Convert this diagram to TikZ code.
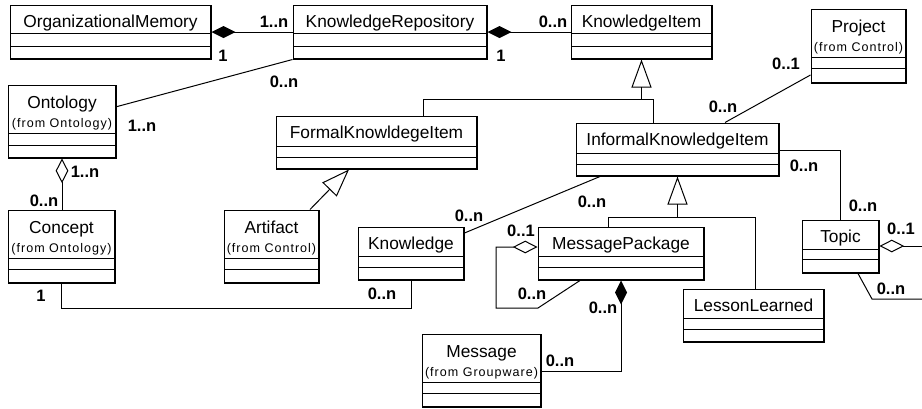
\documentclass[tikz,border=0pt]{standalone}
\usepackage{fontspec}
\setmainfont{Liberation Sans}
\newfontfamily\fromfont[LetterSpace=8]{Liberation Sans}
\usetikzlibrary{arrows.meta,fit,calc}

\tikzset{
  classframe/.style={draw, line width=0.75pt, inner sep=0pt, fill=white},
  divider/.style={line width=0.75pt},
  shadowline/.style={line width=1.6pt},
  nametext/.style={anchor=base, inner sep=0pt, font=\fontsize{13}{15}\selectfont},
  fromtext/.style={anchor=base, inner sep=0pt, font=\fromfont\fontsize{9.4}{11}\selectfont},
  mult/.style={inner sep=0pt, font=\fontsize{12.4}{14}\selectfont\bfseries},
  assoc/.style={line width=0.75pt},
  inherit/.style={assoc, -{Triangle[open, length=21pt, width=15pt]}},
  compose/.style={assoc, {Diamond[length=18pt, width=9pt]}-},
  aggregate/.style={assoc, {Diamond[open, length=18.5pt, width=9.5pt]}-},
}

% class box: name, left, top, right, bottom, divider 1, divider 2
\newcommand\classframe[7]{%
  \node[classframe, fit={(#2,#3) (#4,#5)}] (#1) {};
  \draw[divider] (#2,#6) -- (#4,#6) (#2,#7) -- (#4,#7);
  \draw[shadowline] (#4,#3) -- (#4,#5) -- (#2,#5);
}
\newcommand\plainclass[8]{%
  \classframe{#1}{#2}{#3}{#4}{#5}{#6}{#7}
  \node[nametext] (#1-name) at ({(#2+#4)/2},{#3+22}) {#8};
}
\newcommand\fromclass[9]{%
  \classframe{#1}{#2}{#3}{#4}{#5}{#6}{#7}
  \node[nametext] (#1-name) at ({(#2+#4)/2},{#3+23}) {#8};
  \node[fromtext] (#1-from) at ({(#2+#4)/2},{#3+42}) {(from #9)};
}

\begin{document}
\begin{tikzpicture}[x=0.75pt, y=-0.75pt]
\useasboundingbox (0,0) rectangle (922,408);

% classes
\plainclass{om}{10}{5}{211}{59}{33}{46}{OrganizationalMemory}
\plainclass{kr}{293}{5}{487}{59}{33}{46}{KnowledgeRepository}
\plainclass{ki}{571}{5}{712}{59}{33}{46}{KnowledgeItem}
\fromclass{project}{811}{9}{906}{83}{57}{68}{Project}{Control}
\fromclass{onto}{8}{85}{116}{158}{133}{145}{Ontology}{Ontology}
\fromclass{concept}{8}{210}{115}{283}{258}{269}{Concept}{Ontology}
\plainclass{fki}{276}{116}{477}{169}{146}{157}{FormalKnowldegeItem}
\plainclass{iki}{576}{123}{779}{176}{153}{164}{InformalKnowledgeItem}
\fromclass{artifact}{224}{210}{319}{283}{258}{269}{Artifact}{Control}
\plainclass{knowledge}{358}{227}{464}{280}{256}{267}{Knowledge}
\plainclass{mp}{538}{227}{704}{280}{256}{267}{MessagePackage}
\plainclass{ll}{683}{289}{824}{342}{318}{329}{LessonLearned}
\plainclass{topic}{802}{220}{879}{273}{249}{259}{Topic}
\fromclass{message}{422}{334}{541}{407}{382}{393}{Message}{Groupware}

% compositions
\draw[compose] (om.east) -- (kr.west);
\draw[compose] (kr.east) -- (ki.west);
\draw[compose] (mp.south -| 621,0) |- (message.east |- 0,371);

% aggregations
\draw[aggregate] (onto.south) -- (concept.north -| onto.south);
\draw[aggregate] (mp.west |- 0,247) -- (496,247) -- (496,308) -- (538,308) -- (mp.south -| 580,0);
\coordinate (topicEnd) at (922,246);
\draw[aggregate] (topic.east |- topicEnd) -- (topicEnd);

% associations
\draw[assoc] (kr.south west) -- ($(onto.north east)!0.3!(onto.south east)$);
\draw[assoc] (project.west |- 0,75) -- (iki.north -| 725,0);
\draw[assoc] (iki.east |- 0,150) -| (topic.north);
\coordinate (topicTail) at (922,299);
\draw[assoc] (topic.south -| 858,0) -- (872,299) -- (topicTail);
\draw[assoc] (iki.south -| 600,0) -- (knowledge.east |- 0,233);
\draw[assoc] (concept.south) |- (knowledge.south |- 0,308) -- (knowledge.south);

% generalisations
\draw[assoc] (fki.north -| 423,0) |- (653,99) -- (iki.north -| 653,0);
\draw[inherit] (ki.south |- 0,99) -- (ki.south);
\draw[assoc] (mp.north -| 608,0) |- (755,217) -- (ll.north -| 755,0);
\draw[inherit] (iki.south |- 0,217) -- (iki.south);
\draw[inherit] (artifact.north -| 310,0) -- (fki.south -| 349,0);

% multiplicities
\node[mult] (m01) at (274,22) {1..n};
\node[mult] (m02) at (223,56) {1};
\node[mult] (m03) at (501,56) {1};
\node[mult] (m04) at (553,22) {0..n};
\node[mult] (m05) at (284,82) {0..n};
\node[mult] (m06) at (142,126) {1..n};
\node[mult] (m07) at (786,64) {0..1};
\node[mult] (m08) at (723,107) {0..n};
\node[mult] (m09) at (804,166) {0..n};
\node[mult] (m10) at (863,206) {0..n};
\node[mult] (m11) at (901,229) {0..1};
\node[mult] (m12) at (891,289) {0..n};
\node[mult] (m13) at (85,172) {1..n};
\node[mult] (m14) at (44,201) {0..n};
\node[mult] (m15) at (41,296) {1};
\node[mult] (m16) at (382,294) {0..n};
\node[mult] (m17) at (469,216) {0..n};
\node[mult] (m18) at (592,202) {0..n};
\node[mult] (m19) at (521,231) {0..1};
\node[mult] (m20) at (532,294) {0..n};
\node[mult] (m21) at (603,308) {0..n};
\node[mult] (m22) at (560,361) {0..n};
\end{tikzpicture}
\end{document}
